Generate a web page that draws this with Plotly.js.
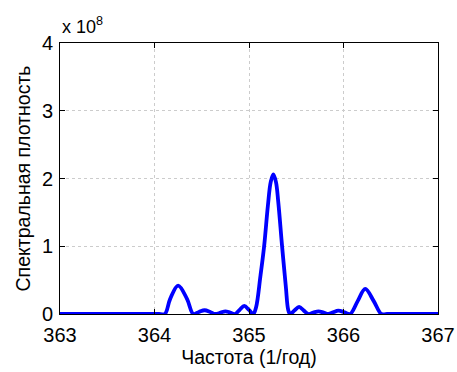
<!DOCTYPE html>
<html>
<head>
<meta charset="utf-8">
<script src="https://cdn.plot.ly/plotly-3.0.1.min.js"></script>
<style>html,body{margin:0;padding:0;background:#fff;}#chart{width:457px;height:372px;}</style>
</head>
<body>
<div id="chart"></div>
<script>
// Frequency (1/year)
var freq = [363, 364.05, 364.11, 364.165, 364.25, 364.345, 364.41,
  364.47, 364.53, 364.59, 364.64, 364.70, 364.75, 364.80, 364.85,
  364.90, 364.95, 365.00, 365.045,
  365.075, 365.12, 365.16, 365.20, 365.23, 365.257, 365.285, 365.31, 365.35, 365.39, 365.415, 365.435,
  365.48, 365.53, 365.58, 365.63, 365.68, 365.735, 365.79, 365.84,
  365.89, 365.945, 366.01, 366.07,
  366.15, 366.23, 366.32, 366.40, 366.46, 367];
// Spectral density (units of 1e8)
var density = [0, 0, 0, 0.22, 0.42, 0.22, 0,
  0.03, 0.055, 0.03, 0, 0.02, 0.04, 0.02, 0,
  0.06, 0.12, 0.06, 0,
  0.1, 0.55, 1.0, 1.6, 1.95, 2.06, 1.95, 1.65, 1.0, 0.4, 0.06, 0,
  0.05, 0.105, 0.05, 0, 0.02, 0.04, 0.02, 0,
  0.025, 0.05, 0.025, 0,
  0.19, 0.37, 0.19, 0, 0, 0];
var xTicks = [363, 364, 365, 366, 367];
var yTicks = [0, 1, 2, 3, 4];
var yTickText = ["0", "1", "2", "3", "4"];

var FONT = 'Liberation Sans, Arial, sans-serif';
var trace = {
  x: freq, y: density, type: 'scatter', mode: 'lines',
  line: {color: '#0000FF', width: 3.8, shape: 'spline', smoothing: 1},
  hoverinfo: 'none'
};
var axisCommon = {
  showline: true, linecolor: '#000', linewidth: 1, mirror: 'ticks',
  ticks: 'inside', ticklen: 5, tickcolor: '#000',
  showgrid: true, gridcolor: '#cccccc', griddash: 'dot', gridwidth: 1,
  zeroline: false,
  tickfont: {family: FONT, size: 20, color: '#000'}
};
var layout = {
  width: 457, height: 372,
  margin: {l: 60, r: 19, t: 43, b: 58},
  paper_bgcolor: '#fff', plot_bgcolor: '#fff',
  showlegend: false,
  xaxis: Object.assign({}, axisCommon, {
    range: [363, 367], tickvals: xTicks, ticktext: xTicks.map(String),
    ticklabelstandoff: 3,
    title: {text: 'Частота (1/год)', font: {family: FONT, size: 19.5, color: '#000'}, standoff: 0}
  }),
  yaxis: Object.assign({}, axisCommon, {
    range: [0, 4], tickvals: yTicks, ticktext: yTickText,
    ticklabelstandoff: 2,
    title: {text: 'Спектральная плотность', font: {family: FONT, size: 19.5, color: '#000'}, standoff: 6}
  }),
  annotations: [{
    xref: 'paper', yref: 'paper', x: 0, y: 1, xanchor: 'left', yanchor: 'bottom',
    yshift: 4, showarrow: false,
    text: 'x 10<sup>8</sup>',
    font: {family: FONT, size: 18, color: '#000'}
  }]
};
Plotly.newPlot('chart', [trace], layout, {displayModeBar: false, staticPlot: true});
</script>
</body>
</html>
